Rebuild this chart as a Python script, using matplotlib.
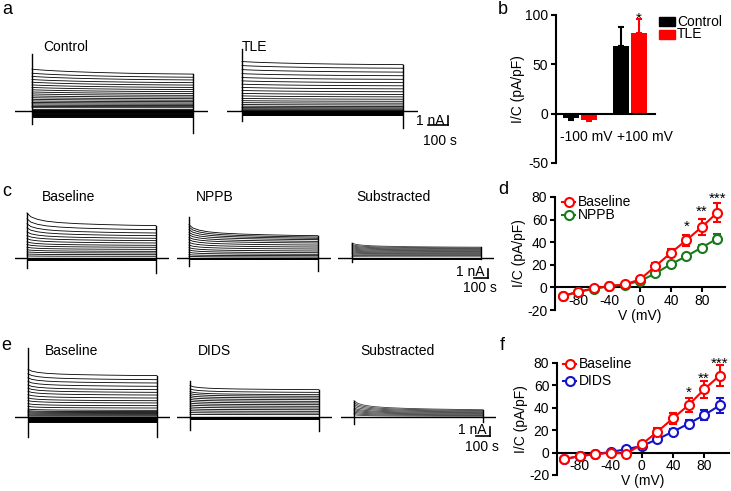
import numpy as np
import matplotlib
matplotlib.use("Agg")
import matplotlib.pyplot as plt
from matplotlib.lines import Line2D
from matplotlib.patches import Rectangle

plt.rcParams["font.family"] = ["Liberation Sans", "DejaVu Sans"]
plt.rcParams["axes.unicode_minus"] = False

# =========================================================
# DATA
# =========================================================

# decay of the current during a voltage step (fraction of step, fraction of transient left)
decay_t = [0, 0.03, 0.08, 0.15, 0.25, 0.4, 0.6, 0.8, 1.0]
slow_decay = [1.0, 0.9, 0.78, 0.65, 0.5, 0.33, 0.17, 0.07, 0.0]
fast_decay = [1.0, 0.7, 0.5, 0.35, 0.24, 0.15, 0.08, 0.03, 0.0]

# a: whole-cell currents (nA), initial and steady value of each sweep
ctrl_peak = [4.65, 4.2, 3.85, 3.5, 3.2, 2.9, 2.62, 2.36, 2.12, 1.9, 1.68, 1.48,
             1.3, 1.12, 0.95, 0.8, 0.65, 0.5, 0.37, 0.25, 0.14, 0.06]
ctrl_steady = [4.1, 3.75, 3.45, 3.15, 2.88, 2.62, 2.38, 2.15, 1.94, 1.74, 1.55, 1.37,
               1.2, 1.04, 0.89, 0.75, 0.61, 0.48, 0.36, 0.25, 0.14, 0.06]
ctrl_neg = [-0.08, -0.16, -0.24, -0.32, -0.4, -0.48, -0.56, -0.64]
ctrl_onset = [-1.4, 6.3]
ctrl_tail = -2.4

tle_peak = [5.5, 5.05, 4.6, 4.15, 3.72, 3.35, 2.98, 2.62, 2.28, 1.96, 1.68, 1.4,
            1.15, 0.93, 0.72, 0.54, 0.38, 0.25, 0.14, 0.06]
tle_steady = [5.15, 4.75, 4.32, 3.92, 3.52, 3.15, 2.8, 2.46, 2.14, 1.84, 1.57, 1.31,
              1.08, 0.87, 0.67, 0.5, 0.35, 0.23, 0.13, 0.05]
tle_neg = [-0.06, -0.12, -0.18, -0.24, -0.3, -0.36, -0.42, -0.48]
tle_onset = [-1.1, 6.9]
tle_tail = -1.9

# c: NPPB
c_base_peak = [5.0, 4.35, 3.8, 3.35, 2.9, 2.5, 2.15, 1.8, 1.5, 1.2, 0.92, 0.68, 0.45, 0.23]
c_base_steady = [3.6, 3.15, 2.78, 2.48, 2.19, 1.93, 1.67, 1.41, 1.19, 0.96, 0.74, 0.56, 0.37, 0.19]
c_base_neg = [-0.05, -0.1, -0.15, -0.2]
c_base_onset = [-1.1, 5.0]
c_base_tail = -1.7

nppb_peak = [3.7, 3.44, 3.15, 2.85, 2.59, 2.3, 2.04, 1.74, 1.44, 1.15, 0.89, 0.63, 0.37, 0.19]
nppb_steady = [2.48, 2.33, 2.19, 2.04, 1.85, 1.67, 1.44, 1.22, 1.0, 0.78, 0.59, 0.41, 0.26, 0.11]
nppb_neg = [-0.05, -0.1, -0.15]
nppb_onset = [-0.9, 4.6]
nppb_tail = -1.4

c_sub_peak = [1.65, 1.5, 1.38, 1.26, 1.14, 1.02, 0.9, 0.78, 0.66, 0.54, 0.42, 0.3, 0.18]
c_sub_steady = [1.2, 1.12, 1.04, 0.96, 0.88, 0.8, 0.72, 0.64, 0.56, 0.48, 0.4, 0.3, 0.2]
c_sub_neg = [-0.05, -0.1]
c_sub_onset = [-0.45, 1.7]
c_sub_tail = -0.1

# e: DIDS
e_base_peak = [5.3, 4.8, 4.35, 3.95, 3.55, 3.2, 2.85, 2.48, 2.12, 1.82, 1.48, 1.18,
               0.88, 0.7, 0.58, 0.46, 0.34, 0.22, 0.11]
e_base_steady = [4.6, 4.15, 3.78, 3.41, 3.04, 2.74, 2.44, 2.11, 1.81, 1.56, 1.26, 1.0,
                 0.74, 0.6, 0.5, 0.4, 0.3, 0.2, 0.1]
e_base_neg = [-0.06, -0.12, -0.18, -0.24, -0.3, -0.36, -0.42, -0.48, -0.54]
e_base_onset = [-2.2, 7.7]
e_base_tail = -2.2

dids_peak = [3.48, 3.12, 2.82, 2.6, 2.38, 2.17, 1.96, 1.76, 1.55, 1.34, 1.13, 0.92, 0.71, 0.5, 0.3]
dids_steady = [3.04, 2.74, 2.48, 2.3, 2.11, 1.93, 1.74, 1.56, 1.37, 1.19, 1.0, 0.81, 0.63, 0.44, 0.26]
dids_neg = [-0.05, -0.1, -0.15, -0.2]
dids_onset = [-1.4, 3.96]
dids_tail = -1.6

e_sub_peak = [1.81, 1.6, 1.4, 1.2, 1.0, 0.85, 0.7, 0.55, 0.4, 0.25]
e_sub_steady = [0.81, 0.72, 0.64, 0.56, 0.48, 0.4, 0.32, 0.24, 0.16, 0.08]
e_sub_neg = [-0.04]
e_sub_onset = [-0.8, 1.8]
e_sub_tail = -0.55

# b: current density at -100 / +100 mV
b_groups = ["-100 mV", "+100 mV"]
b_ctrl = [-4.5, 69]
b_ctrl_err = [2.0, 19]
b_tle = [-6.5, 82]
b_tle_err = [1.0, 14]

# d, f: I-V curves
volts = [-100, -80, -60, -40, -20, 0, 20, 40, 60, 80, 100]
d_base = [-7.6, -3.8, -0.9, 1.2, 2.6, 7.0, 18.8, 30.6, 41.8, 53.5, 66.2]
d_base_err = [1.0, 1.0, 1.0, 1.2, 1.5, 2.0, 2.5, 3.5, 5.0, 7.0, 8.5]
d_nppb = [-7.8, -4.0, -1.2, 1.0, 2.4, 5.6, 12.4, 20.6, 27.6, 35.3, 43.2]
d_nppb_err = [1.0, 1.0, 1.0, 1.0, 1.2, 1.5, 1.8, 2.0, 2.0, 2.5, 4.0]

f_base = [-5.9, -3.0, -1.5, 0.0, -1.0, 7.4, 18.7, 30.6, 42.4, 56.4, 68.8]
f_base_err = [1.0, 1.0, 1.0, 1.5, 1.0, 2.0, 3.0, 5.0, 6.5, 7.5, 9.0]
f_dids = [-6.0, -3.0, -1.5, 0.6, 3.0, 6.0, 11.9, 18.7, 25.8, 33.5, 42.1]
f_dids_err = [1.0, 1.0, 1.0, 1.0, 1.0, 1.5, 1.8, 2.0, 3.0, 4.5, 7.0]

star_v = [60, 80, 100]
star_txt = ["*", "**", "***"]
d_star_y = [50.5, 63, 75]
f_star_y = [49.5, 62, 75.5]

RED = "#ff0000"
GREEN = "#1a7a1a"
BLUE = "#1414c8"

# =========================================================
# HELPERS
# =========================================================

W, H = 731, 491
fig = plt.figure(figsize=(W / 100, H / 100), dpi=100)

SX = 0.161  # px per s
SY = 9.0    # px per nA


def px_axes(left, top, width, height):
    return fig.add_axes([left / W, 1 - (top + height) / H, width / W, height / H])


def fig_text(x, y, s, **kw):
    kw.setdefault("fontsize", 10)
    kw.setdefault("va", "center")
    fig.text(x / W, 1 - y / H, s, **kw)


def fig_line(xs, ys, **kw):
    fig.add_artist(Line2D([x / W for x in xs], [1 - y / H for y in ys],
                          transform=fig.transFigure, **kw))


def draw_trace(ox, oy, dur, peak, steady, neg, onset, tail, decay,
               pre=90, post=90, color="black"):
    ax = px_axes(ox - pre * SX, oy - 8 * SY, (pre + dur + post) * SX, 11 * SY)
    ax.set_xlim(-pre, dur + post)
    ax.set_ylim(-3, 8)
    ax.axis("off")
    t = np.array(decay_t) * dur
    d = np.array(decay)
    ax.plot([-pre, dur + post], [0, 0], color="black", lw=1.0)
    for v in neg:
        ax.plot([0, dur], [v, v], color="black", lw=0.7)
    for p, s in zip(peak, steady):
        ax.plot(t, s + (p - s) * d, color=color, lw=0.6)
    ax.plot([0, 0], onset, color="black", lw=1.0)
    ax.plot([dur, dur], [tail, max(steady)], color="black", lw=1.0)
    return ax


def scale_bar(x, y, top_text_y, bottom_text_y, hlen):
    # x, y: corner of the L-shaped bar (px)
    fig_line([x, x], [y - 9, y], color="black", lw=1.2)
    fig_line([x - hlen, x], [y, y], color="black", lw=1.2)
    fig_text(x - 3, top_text_y, "1 nA", ha="right")
    fig_text(x + 9, bottom_text_y, "100 s", ha="right")


def iv_axes(ax, xlim):
    ax.set_xlim(*xlim)
    ax.set_ylim(-20, 80)
    for s in ["top", "right"]:
        ax.spines[s].set_visible(False)
    ax.spines["bottom"].set_position(("data", 0))
    ax.spines["left"].set_bounds(-20, 80)
    for s in ["left", "bottom"]:
        ax.spines[s].set_linewidth(1.5)
    ax.set_xticks([-80, -40, 0, 40, 80])
    ax.set_yticks([-20, 0, 20, 40, 60, 80])
    ax.tick_params(direction="out", length=3.5, width=1.5, labelsize=10)
    ax.tick_params(axis="x", pad=1)
    ax.tick_params(axis="y", pad=2)
    ax.set_ylabel("I/C (pA/pF)", fontsize=10, labelpad=0.5)
    ax.set_xlabel("V (mV)", fontsize=10, labelpad=1)
    ax.patch.set_alpha(0)


def iv_series(ax, y, err, color, z):
    ax.errorbar(volts, y, yerr=err, color=color, lw=1.5, elinewidth=1.5,
                capsize=3, capthick=1.5, marker="o", ms=6.5, mew=1.5,
                mfc="white", mec=color, zorder=z, clip_on=False)


def iv_legend(x0, ys, labels, colors):
    for y, lab, c in zip(ys, labels, colors):
        fig_line([x0, x0 + 6.5, x0 + 13], [y, y, y], color=c, lw=1.5,
                 marker="o", ms=6.5, mew=1.5, mfc="white", markevery=[1])
        fig_text(x0 + 16, y, lab)


# =========================================================
# a. CONTROL vs TLE TRACES
# =========================================================

draw_trace(32, 111, 1000, ctrl_peak, ctrl_steady, ctrl_neg, ctrl_onset, ctrl_tail,
           slow_decay, pre=106, post=93)
draw_trace(242, 111, 1000, tle_peak, tle_steady, tle_neg, tle_onset, tle_tail,
           slow_decay, pre=93, post=93)
fig_text(43, 47, "Control")
fig_text(242, 47, "TLE")
scale_bar(448, 125, 121, 141, 20)

# =========================================================
# c. NPPB TRACES
# =========================================================

draw_trace(27, 258, 800, c_base_peak, c_base_steady, c_base_neg, c_base_onset,
           c_base_tail, fast_decay, pre=75, post=80)
draw_trace(189, 258, 800, nppb_peak, nppb_steady, nppb_neg, nppb_onset,
           nppb_tail, fast_decay, pre=75, post=85)
draw_trace(352, 258, 800, c_sub_peak, c_sub_steady, c_sub_neg, c_sub_onset,
           c_sub_tail, fast_decay, pre=85, post=80, color="#3c3c3c")
fig_text(42, 197, "Baseline")
fig_text(196, 197, "NPPB")
fig_text(356, 197, "Substracted")
scale_bar(488, 278, 272, 288, 14)

# =========================================================
# e. DIDS TRACES
# =========================================================

draw_trace(28, 417, 800, e_base_peak, e_base_steady, e_base_neg, e_base_onset,
           e_base_tail, fast_decay, pre=80, post=80)
draw_trace(190, 417, 800, dids_peak, dids_steady, dids_neg, dids_onset,
           dids_tail, fast_decay, pre=80, post=80)
draw_trace(354, 417, 800, e_sub_peak, e_sub_steady, e_sub_neg, e_sub_onset,
           e_sub_tail, fast_decay, pre=80, post=85, color="#3c3c3c")
fig_text(45, 351, "Baseline")
fig_text(198, 351, "DIDS")
fig_text(360, 351, "Substracted")
scale_bar(490, 436, 430, 447, 14)

# =========================================================
# b. BAR CHART
# =========================================================

ax_b = px_axes(556, 15, 99, 148)
xg = np.arange(len(b_groups))
for off, mean, err, col in [(-0.18, b_ctrl, b_ctrl_err, "black"),
                            (0.18, b_tle, b_tle_err, RED)]:
    lo = [e if m < 0 else 0 for m, e in zip(mean, err)]
    hi = [e if m > 0 else 0 for m, e in zip(mean, err)]
    ax_b.bar(xg + off, mean, 0.32, color=col, zorder=2)
    ax_b.errorbar(xg + off, mean, yerr=[lo, hi], fmt="none", ecolor=col,
                  elinewidth=1.5, capsize=2, capthick=1.5, zorder=2)
ax_b.set_xlim(-0.47, 1.5)
ax_b.set_ylim(-50, 100)
for s in ["top", "right"]:
    ax_b.spines[s].set_visible(False)
ax_b.spines["bottom"].set_position(("data", 0))
ax_b.spines["bottom"].set_zorder(3)
for s in ["left", "bottom"]:
    ax_b.spines[s].set_linewidth(1.5)
ax_b.set_xticks([])
ax_b.set_yticks([-50, 0, 50, 100])
ax_b.tick_params(direction="out", length=3.5, width=1.5, labelsize=10, pad=2)
ax_b.set_ylabel("I/C (pA/pF)", fontsize=10, labelpad=0.5)
ax_b.patch.set_alpha(0)
for g, lab, off in zip(xg, b_groups, [0.13, 0.30]):
    ax_b.text(g + off, -23.6, lab, ha="center", va="center", fontsize=10)
ax_b.text(xg[1] + 0.18, 92.5, "*", ha="center", va="baseline", fontsize=11)

fig.add_artist(Rectangle((659 / W, 1 - 26 / H), 16 / W, 9 / H, color="black",
                         transform=fig.transFigure))
fig.add_artist(Rectangle((659 / W, 1 - 39 / H), 16 / W, 9 / H, color=RED,
                         transform=fig.transFigure))
fig_text(677, 21.5, "Control")
fig_text(677, 34.5, "TLE")

# =========================================================
# d. I-V NPPB
# =========================================================

ax_d = px_axes(555, 197, 170, 113)
iv_axes(ax_d, (-110, 110))
iv_series(ax_d, d_nppb, d_nppb_err, GREEN, 3)
iv_series(ax_d, d_base, d_base_err, RED, 4)
for v, y, s in zip(star_v, d_star_y, star_txt):
    ax_d.text(v, y, s, ha="center", va="baseline", fontsize=11)
iv_legend(562, [202, 215], ["Baseline", "NPPB"], [RED, GREEN])

# =========================================================
# f. I-V DIDS
# =========================================================

ax_f = px_axes(557, 363, 172, 112)
iv_axes(ax_f, (-109, 112))
iv_series(ax_f, f_dids, f_dids_err, BLUE, 3)
iv_series(ax_f, f_base, f_base_err, RED, 4)
for v, y, s in zip(star_v, f_star_y, star_txt):
    ax_f.text(v, y, s, ha="center", va="baseline", fontsize=11)
iv_legend(563, [364, 381], ["Baseline", "DIDS"], [RED, BLUE])

# panel letters
for x, y, s in [(2, 10, "a"), (498, 10, "b"), (2, 191, "c"),
                (498, 190, "d"), (1, 345, "e"), (500, 345, "f")]:
    fig_text(x, y, s, fontsize=13)

fig.savefig("out.png", dpi=100)
